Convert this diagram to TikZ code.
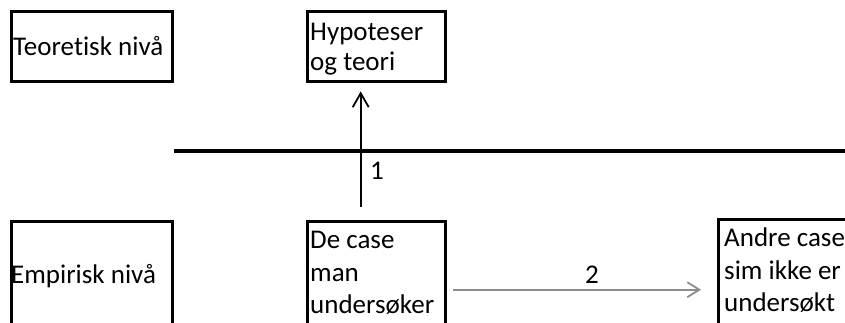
\documentclass[tikz,border=0pt]{standalone}
\usepackage{fontspec}
\setmainfont{Carlito}[Ligatures=NoCommon]
\usetikzlibrary{arrows.meta}
\begin{document}
\begin{tikzpicture}[x=1pt,y=-1pt,
  box/.style={draw,line width=3.4pt,rectangle,inner sep=0pt,anchor=north west},
  boxtext/.style={inner sep=0pt,align=left,font=\fontsize{27}{30}\selectfont},
  widetext/.style={boxtext,font=\fontsize{27}{32.5}\selectfont},
  numlabel/.style={inner sep=0pt,font=\fontsize{27}{30}\selectfont},
  uparrow/.style={line width=1.8pt,-{Straight Barb[length=14pt,width=16pt,line width=1.8pt]}},
  sidearrow/.style={draw=black!45,line width=1.8pt,-{Straight Barb[length=12pt,width=15pt,line width=1.8pt]}}]
\clip (0,0) rectangle (845,322);

% level and content boxes
\node[box,minimum width=161pt,minimum height=70pt] (teo) at (10,10) {};
\node[box,minimum width=138pt,minimum height=70pt] (hyp) at (306,10) {};
\node[box,minimum width=161pt,minimum height=136pt] (emp) at (10,220) {};
\node[box,minimum width=138pt,minimum height=136pt] (case) at (306,220) {};
\node[box,minimum width=160pt,minimum height=140pt] (andre) at (717,218) {};

% box texts
\node[boxtext,anchor=base west] (teotxt) at (13,55) {Teoretisk nivå};
\node[boxtext,anchor=north west] (hyptxt) at ([shift={(4,9)}]hyp.north west) {\strut Hypoteser\\og teori};
\node[boxtext,anchor=base west] (emptxt) at (11,283) {Empirisk nivå};
\node[widetext,anchor=north west] (casetxt) at ([shift={(4,6)}]case.north west) {\strut De case\\man\\undersøker};
\node[widetext,anchor=north west] (andretxt) at ([shift={(7,6)}]andre.north west) {\strut Andre case\\sim ikke er\\undersøkt};

% dividing line between the levels
\coordinate (lineR) at (850,151);
\draw[line width=4pt] (teo.east |- lineR) -- (lineR);

% connectors
\draw[uparrow,shorten <=13pt,shorten >=8pt] ([xshift=-16pt]case.north) -- ([xshift=-16pt]hyp.south);
\node[numlabel] (one) at (377,171) {1};
\draw[sidearrow,shorten <=6pt,shorten >=16pt] (case.east) -- (andre.west);
\node[numlabel] (two) at (592,275) {2};
\end{tikzpicture}
\end{document}
